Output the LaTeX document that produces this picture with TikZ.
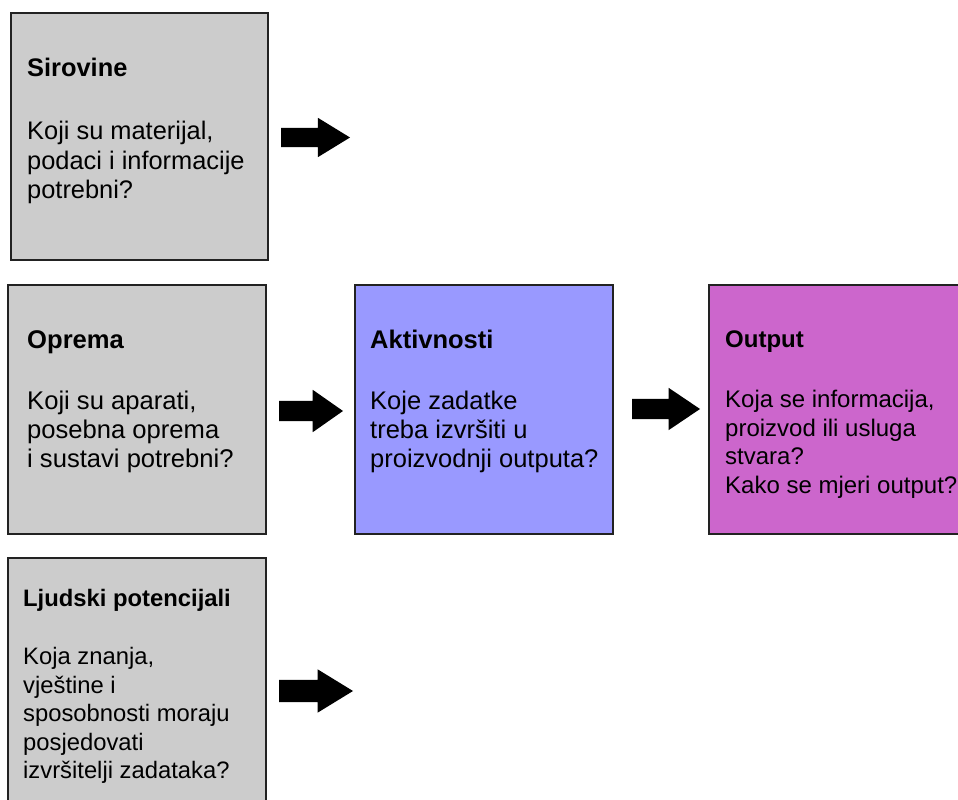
\documentclass[tikz,border=0pt]{standalone}
\usepackage{fontspec}
\setmainfont{Liberation Sans}
\usetikzlibrary{shapes.arrows}

\definecolor{boxgray}{HTML}{CCCCCC}
\definecolor{boxblue}{HTML}{9999FF}
\definecolor{boxpink}{HTML}{CC66CC}
\definecolor{edge}{HTML}{222222}

\tikzset{
  panel/.style={draw=edge, line width=1.4pt, rectangle, inner sep=0pt, outer sep=0pt, anchor=south west},
  headtext/.style={anchor=base west, inner sep=0pt, font=\bfseries\fontsize{#1}{#1}\selectfont},
  % multi-line text: the base anchor sits on the last line
  bodytext/.style 2 args={anchor=base west, inner sep=0pt, align=left, font=\fontsize{#1}{#2}\selectfont},
  blockarrow/.style={single arrow, fill=black, draw=none, anchor=tail, inner xsep=0pt, outer sep=0pt, single arrow head indent=0pt},
}

\begin{document}
\begin{tikzpicture}[x=1pt, y=1pt]
\useasboundingbox (0,0) rectangle (958,800);

% input panels (left column)
\node[panel, fill=boxgray, minimum width=257pt, minimum height=247pt] (sir) at (11,540) {};
\node[panel, fill=boxgray, minimum width=258pt, minimum height=249pt] (opr) at (8,266) {};
\node[panel, fill=boxgray, minimum width=258pt, minimum height=254pt] (lju) at (8,-12) {};

% activity and output panels
\node[panel, fill=boxblue, minimum width=258pt, minimum height=249pt] (akt) at (355,266) {};
\node[panel, fill=boxpink, minimum width=260pt, minimum height=249pt] (out) at (709,266) {};

% panel texts
\node[headtext=25.4] (sirT) at (27,723) {Sirovine};
\node[bodytext={25.4}{29.7}] (sirB) at (27,601) {Koji su materijal,\\podaci i informacije\\potrebni?};

\node[headtext=25.6] (oprT) at (27,451) {Oprema};
\node[bodytext={25.6}{29}] (oprB) at (27,332) {Koji su aparati,\\posebna oprema\\i sustavi potrebni?};

\node[headtext=25.5] (aktT) at (370,451) {Aktivnosti};
\node[bodytext={25.5}{29}] (aktB) at (370,332) {Koje zadatke\\treba izvršiti u\\proizvodnji outputa?};

\node[headtext=24] (outT) at (725,452) {Output};
\node[bodytext={24}{28.5}] (outB) at (725,306.5) {Koja se informacija,\\proizvod ili usluga\\stvara?\\Kako se mjeri output?};

\node[headtext=23.8] (ljuT) at (23,193.5) {Ljudski potencijali};
\node[bodytext={23.8}{28.5}] (ljuB) at (23,21) {Koja znanja,\\vještine i\\sposobnosti moraju\\posjedovati\\izvršitelji zadataka?};

% block arrows
\node[blockarrow, minimum height=69pt, inner ysep=9.5pt, single arrow head extend=10pt, single arrow tip angle=63] (a1) at (281,662.5) {};
\node[blockarrow, minimum height=64pt, inner ysep=10pt, single arrow head extend=11pt, single arrow tip angle=70] (a2) at (279,389) {};
\node[blockarrow, minimum height=68pt, inner ysep=10pt, single arrow head extend=11pt, single arrow tip angle=68] (a3) at (632,391) {};
\node[blockarrow, minimum height=74pt, inner ysep=11pt, single arrow head extend=10.5pt, single arrow tip angle=63] (a4) at (279,109) {};
\end{tikzpicture}
\end{document}
